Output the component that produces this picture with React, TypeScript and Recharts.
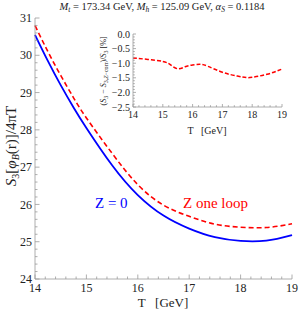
import { LineChart, Line, XAxis, YAxis } from 'recharts';

// main panel: S3/(4 pi T) vs T
const mainT = [14, 14.25, 14.5, 14.75, 15, 15.5, 16, 16.5, 17, 17.5, 18, 18.5, 19];
const zeroZ = [30.55, 29.85, 29.2, 28.6, 28.05, 27.05, 26.25, 25.7, 25.35, 25.12, 25.02, 25.03, 25.18];
const oneLoopZ = [30.8, 30.1, 29.46, 28.86, 28.32, 27.37, 26.53, 25.98, 25.68, 25.47, 25.39, 25.38, 25.48];

// inset: relative difference in %
const insetT = [14, 14.5, 15, 15.25, 15.5, 15.75, 16, 16.25, 16.5, 17, 17.5, 17.8, 18, 18.5, 19];
const insetDiff = [-0.82, -0.87, -0.94, -1.05, -1.19, -1.12, -1.06, -1.04, -1.1, -1.31, -1.44, -1.49, -1.48, -1.38, -1.2];

const mainXTicks = [14, 15, 16, 17, 18, 19];
const mainYTicks = [24, 25, 26, 27, 28, 29, 30, 31];
const insetXTicks = [14, 15, 16, 17, 18, 19];
const insetYTicks = [0, -0.5, -1, -1.5, -2, -2.5];

const FONT = '"Liberation Serif", "DejaVu Serif", serif';
const FRAME = '#9a9a9a';
const INK = '#222';

const withMinor = (lo: number, hi: number, step: number) => {
  const out: number[] = [];
  const n = Math.round((hi - lo) / step);
  for (let i = 0; i <= n; i++) out.push(Math.round((lo + i * step) * 100) / 100);
  return out;
};

const fmtInt = (v: number) => String(v);
const fmtDec = (v: number) => v.toFixed(1).replace('-', '\u2212');

// tick drawn inward from the frame, label only on majors
const makeTick = (
  side: 'bottom' | 'top' | 'left' | 'right',
  majors: number[],
  len: number,
  minorLen: number,
  fontSize: number,
  fmt: ((v: number) => string) | null
) => (props: any) => {
  const { x, y, payload } = props;
  const v = payload.value;
  const major = majors.some((m) => Math.abs(m - v) < 1e-6);
  const l = major ? len : minorLen;
  let line;
  let label = null;
  if (side === 'bottom') {
    line = <line x1={x} x2={x} y1={y} y2={y - l} stroke={FRAME} strokeWidth={0.8} />;
    if (major && fmt)
      label = (
        <text x={x} y={y + fontSize + 1} textAnchor="middle" fontSize={fontSize} fill={INK} fontFamily={FONT}>
          {fmt(v)}
        </text>
      );
  } else if (side === 'top') {
    line = <line x1={x} x2={x} y1={y} y2={y + l} stroke={FRAME} strokeWidth={0.8} />;
  } else if (side === 'left') {
    line = <line x1={x} x2={x + l} y1={y} y2={y} stroke={FRAME} strokeWidth={0.8} />;
    if (major && fmt)
      label = (
        <text x={x - 3} y={y + fontSize * 0.35} textAnchor="end" fontSize={fontSize} fill={INK} fontFamily={FONT}>
          {fmt(v)}
        </text>
      );
  } else {
    line = <line x1={x} x2={x - l} y1={y} y2={y} stroke={FRAME} strokeWidth={0.8} />;
  }
  return (
    <g>
      {line}
      {label}
    </g>
  );
};

function Inset() {
  const data = insetT.map((t, i) => ({ t, d: insetDiff[i] }));
  const xt = withMinor(14, 19, 0.2);
  const yt = withMinor(-2.5, 0, 0.1);
  const axisCommon = { tickSize: 0, tickMargin: 0, tickLine: false, interval: 0 as const, axisLine: { stroke: FRAME, strokeWidth: 0.8 } };
  return (
    <LineChart width={200} height={100} data={data} margin={{ top: 9, right: 8, bottom: 0, left: 0 }}>
      <XAxis dataKey="t" type="number" domain={[14, 19]} ticks={xt} height={18} {...axisCommon}
        tick={makeTick('bottom', insetXTicks, 3, 1.8, 10, fmtInt)} />
      <XAxis xAxisId="top" orientation="top" dataKey="t" type="number" domain={[14, 19]} ticks={xt} height={0} {...axisCommon}
        tick={makeTick('top', insetXTicks, 3, 1.8, 10, null)} />
      <YAxis type="number" domain={[-2.5, 0]} ticks={yt} width={43} {...axisCommon}
        tick={makeTick('left', insetYTicks, 3, 1.8, 10, fmtDec)} />
      <YAxis yAxisId="right" orientation="right" type="number" domain={[-2.5, 0]} ticks={yt} width={0} {...axisCommon}
        tick={makeTick('right', insetYTicks, 3, 1.8, 10, null)} />
      <Line type="natural" dataKey="d" stroke="#ff0000" strokeWidth={1.5} strokeDasharray="4 2" dot={false} isAnimationActive={false} />
    </LineChart>
  );
}

export default function App() {
  const data = mainT.map((t, i) => ({ t, zero: zeroZ[i], loop: oneLoopZ[i] }));
  const xt = withMinor(14, 19, 0.2);
  const yt = withMinor(24, 31, 0.2);
  const axisCommon = { tickSize: 0, tickMargin: 0, tickLine: false, interval: 0 as const, axisLine: { stroke: FRAME, strokeWidth: 0.8 } };

  return (
    <div style={{ position: 'absolute', left: 0, top: 0, width: 300, height: 312, background: '#fff', fontFamily: FONT }}>
      <LineChart width={300} height={312} data={data} margin={{ top: 18, right: 8, bottom: 0, left: 0 }}>
        <XAxis dataKey="t" type="number" domain={[14, 19]} ticks={xt} height={33} {...axisCommon}
          tick={makeTick('bottom', mainXTicks, 4.5, 2.5, 12, fmtInt)} />
        <XAxis xAxisId="top" orientation="top" dataKey="t" type="number" domain={[14, 19]} ticks={xt} height={0} {...axisCommon}
          tick={makeTick('top', mainXTicks, 4.5, 2.5, 12, null)} />
        <YAxis type="number" domain={[24, 31]} ticks={yt} width={35} {...axisCommon}
          tick={makeTick('left', mainYTicks, 4.5, 2.5, 12, fmtInt)} />
        <YAxis yAxisId="right" orientation="right" type="number" domain={[24, 31]} ticks={yt} width={0} {...axisCommon}
          tick={makeTick('right', mainYTicks, 4.5, 2.5, 12, null)} />
        <Line type="natural" dataKey="zero" stroke="#0000ff" strokeWidth={1.8} dot={false} isAnimationActive={false} />
        <Line type="natural" dataKey="loop" stroke="#ff0000" strokeWidth={1.6} strokeDasharray="5 3" dot={false} isAnimationActive={false} />
      </LineChart>

      <div style={{ position: 'absolute', left: 90, top: 25 }}>
        <Inset />
      </div>

      <svg width={300} height={312} style={{ position: 'absolute', left: 0, top: 0, pointerEvents: 'none' }} fontFamily={FONT}>
        <text x={162} y={10} textAnchor="middle" fontSize={10.5} fill={INK}>
          <tspan fontStyle="italic">M</tspan>
          <tspan fontSize={7.5} fontStyle="italic" dy={2}>t</tspan>
          <tspan dy={-2}> = 173.34 GeV, </tspan>
          <tspan fontStyle="italic">M</tspan>
          <tspan fontSize={7.5} fontStyle="italic" dy={2}>h</tspan>
          <tspan dy={-2}> = 125.09 GeV, </tspan>
          <tspan fontStyle="italic">α</tspan>
          <tspan fontSize={7.5} fontStyle="italic" dy={2}>S</tspan>
          <tspan dy={-2}> = 0.1184</tspan>
        </text>

        <text transform="translate(16,146) rotate(-90)" textAnchor="middle" fontSize={15} fill={INK}>
          <tspan fontStyle="italic">S</tspan>
          <tspan fontSize={10} dy={3}>3</tspan>
          <tspan dy={-3}>[</tspan>
          <tspan fontStyle="italic">φ</tspan>
          <tspan fontSize={10} fontStyle="italic" dy={3}>B</tspan>
          <tspan dy={-3}>(r)]/4πT</tspan>
        </text>

        <text x={163} y={307} textAnchor="middle" fontSize={13} fill={INK} xmlSpace="preserve">
          T   [GeV]
        </text>

        <text x={95} y={208} fontSize={15} fill="#0000ff">Z = 0</text>
        <text x={183} y={208} fontSize={15} fill="#ff0000">Z one loop</text>

        <text x={207} y={134} textAnchor="middle" fontSize={10} fill={INK} xmlSpace="preserve">
          T   [GeV]
        </text>

        <text transform="translate(106,71) rotate(-90)" textAnchor="middle" fontSize={8} fill={INK}>
          <tspan>(</tspan>
          <tspan fontStyle="italic">S</tspan>
          <tspan fontSize={6} dy={2}>3</tspan>
          <tspan dy={-2}> − </tspan>
          <tspan fontStyle="italic">S</tspan>
          <tspan fontSize={6} dy={2}>3,</tspan>
          <tspan fontSize={6} fontStyle="italic">Z</tspan>
          <tspan fontSize={6}>−corr</tspan>
          <tspan dy={-2}>)/</tspan>
          <tspan fontStyle="italic">S</tspan>
          <tspan fontSize={6} dy={2}>3</tspan>
          <tspan dy={-2}>{'   [%]'}</tspan>
        </text>
      </svg>
    </div>
  );
}
